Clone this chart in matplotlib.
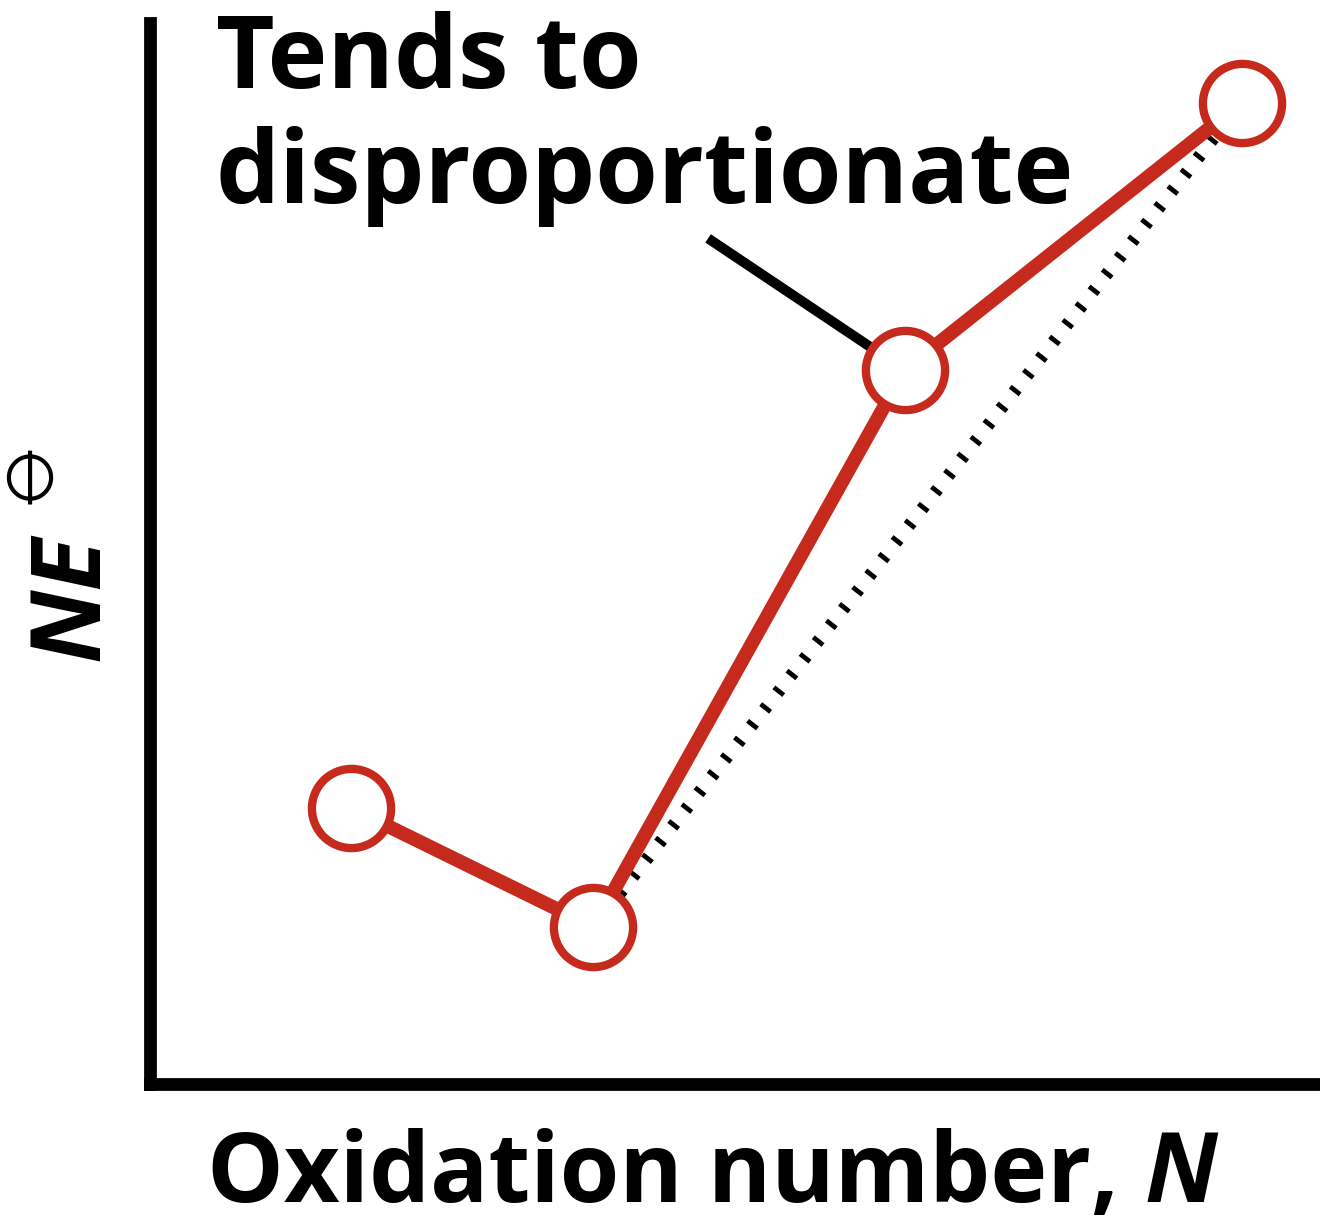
import matplotlib
matplotlib.use("Agg")
import matplotlib.pyplot as plt

# Data (arbitrary axis units)
ox_number = [1.72, 3.79, 6.45, 9.33]
ne_value = [2.60, 1.48, 6.73, 9.25]
annot_lines = ["Tends to", "disproportionate"]
xlabel_main = "Oxidation number, "
xlabel_sym = "N"
ylabel_main = "NE"
ylabel_sup = "\u29B5"

RED = "#c62a1d"
W, H = 1320, 1226
fig = plt.figure(figsize=(W / 100, H / 100), dpi=100)
fig.patch.set_facecolor("white")

def fx(px):
    return px / W

def fy(py):
    return 1 - py / H

ax = fig.add_axes([fx(150), fy(1084), (W - 150) / W, (1084 - 23) / H])
ax.set_xlim(0, 10)
ax.set_ylim(0, 10)
ax.set_xticks([])
ax.set_yticks([])
for s in ["top", "right"]:
    ax.spines[s].set_visible(False)
for s in ["left", "bottom"]:
    ax.spines[s].set_linewidth(9.2)
    ax.spines[s].set_capstyle("projecting")
    ax.spines[s].set_color("black")

# dotted reference line between 2nd and 4th points
ax.plot([ox_number[1], ox_number[3]], [ne_value[1], ne_value[3]],
        color="black", lw=9, linestyle=(0, (0.38, 1.32)),
        dash_capstyle="butt", zorder=1, clip_on=False)

# leader line for annotation
ax.annotate("", xy=(ox_number[2], ne_value[2]), xytext=(4.77, 7.97),
            arrowprops=dict(arrowstyle="-", lw=7.2, color="black",
                            shrinkA=0, shrinkB=0, capstyle="butt"),
            zorder=2)

ax.plot(ox_number, ne_value, color=RED, lw=10, zorder=3,
        solid_capstyle="butt", clip_on=False)
ax.plot(ox_number, ne_value, linestyle="none", marker="o", ms=57,
        mfc="white", mec=RED, mew=6, zorder=4, clip_on=False)

# annotation text
fig.text(fx(216), fy(88), annot_lines[0], fontfamily="Open Sans",
         fontweight="bold", fontsize=73, ha="left", va="baseline")
fig.text(fx(216), fy(203), annot_lines[1], fontfamily="Open Sans",
         fontweight="bold", fontsize=73, ha="left", va="baseline")

# x label
t1 = fig.text(fx(207), fy(1202), xlabel_main, fontfamily="Open Sans",
              fontweight="bold", fontsize=69.5, ha="left", va="baseline")
fig.canvas.draw()
ax.annotate(xlabel_sym, xy=(1, 0), xycoords=t1, fontfamily="Open Sans",
            fontweight="bold", fontstyle="italic", fontsize=69.5,
            ha="left", va="bottom", annotation_clip=False)

# y label
fig.text(fx(73), fy(598), ylabel_main, fontfamily="Open Sans",
         fontweight="bold", fontstyle="italic", fontsize=70,
         rotation=90, ha="center", va="center")
fig.text(fx(31), fy(476), ylabel_sup, family=["STIXGeneral", "DejaVu Sans"],
         fontweight="normal", fontsize=45, rotation=90, ha="center", va="center")

fig.savefig("out.png", dpi=100, facecolor="white")
